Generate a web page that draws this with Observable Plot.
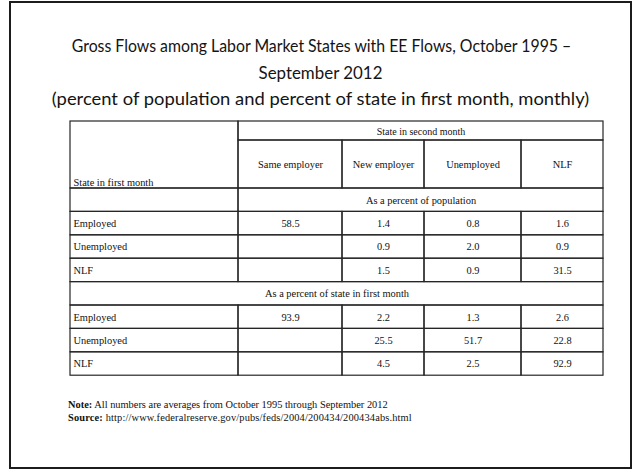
<!DOCTYPE html>
<html><head><meta charset="utf-8">
<script src="https://cdn.jsdelivr.net/npm/d3@7"></script>
<script src="https://cdn.jsdelivr.net/npm/@observablehq/plot@0.6"></script>
<style>
html,body{margin:0;padding:0;background:#fff;width:633px;height:470px;overflow:hidden}
#chart{position:absolute;left:0;top:0}
#frame{position:absolute;left:9px;top:1px;width:623px;height:468px;box-sizing:border-box;border:2px solid #1c1c1c}
#title{position:absolute;left:9px;top:33px;width:623px;font-family:Lato,"Open Sans",sans-serif;font-size:17.6px;line-height:26.5px;color:#141414}
#title div{text-align:center;white-space:nowrap;transform-origin:center}
#notes{position:absolute;left:68px;top:398px;font-family:"Liberation Serif",serif;font-size:10.4px;line-height:13px;color:#111;white-space:nowrap}
#notes .src{letter-spacing:0.15px}
</style></head>
<body>
<div id="chart"></div>
<div id="frame"></div>
<div id="title">
  <div style="transform:translateX(1px) scaleX(0.9)">Gross Flows among Labor Market States with EE Flows, October 1995 –</div>
  <div style="transform:scaleX(0.96)">September 2012</div>
  <div style="transform:scaleX(1.045)">(percent of population and percent of state in first month, monthly)</div>
</div>
<div id="notes"><b>Note:</b> All numbers are averages from October 1995 through September 2012<br><span class="src"><b>Source:</b> http://www.federalreserve.gov/pubs/feds/2004/200434/200434abs.html</span></div>
<script>
// ---- data ----
const firstMonthHeader = "State in first month";
const secondMonthHeader = "State in second month";
const columns = ["Same employer", "New employer", "Unemployed", "NLF"];
const rowStates = ["Employed", "Unemployed", "NLF"];
const sectionPopulation = "As a percent of population";
const sectionState = "As a percent of state in first month";
// as a percent of population (blank = null)
const popEmployed   = [58.5, 1.4, 0.8, 1.6];
const popUnemployed = [null, 0.9, 2.0, 0.9];
const popNLF        = [null, 1.5, 0.9, 31.5];
// as a percent of state in first month
const stEmployed    = [93.9, 2.2, 1.3, 2.6];
const stUnemployed  = [null, 25.5, 51.7, 22.8];
const stNLF         = [null, 4.5, 2.5, 92.9];

// ---- layout (table units) ----
const colWidths = [168, 104, 82, 97, 82];
const headTop = 19, headBottom = 48, rowH = 23.4;
const edges = [0]; colWidths.forEach(w => edges.push(edges[edges.length - 1] + w));
const W = edges[edges.length - 1];
const H = headTop + headBottom + 8 * rowH;

const cells = [], texts = [];
const serif = "Liberation Serif";
// header
cells.push({x1: 0, x2: edges[1], y1: 0, y2: headTop + headBottom});
texts.push({x: 3, y: headTop + headBottom - 3, text: firstMonthHeader, kind: "bottomleft"});
cells.push({x1: edges[1], x2: W, y1: 0, y2: headTop});
texts.push({x: (edges[1] + W) / 2, y: headTop / 2 + 1, text: secondMonthHeader, kind: "small"});
columns.forEach((c, i) => {
  cells.push({x1: edges[i + 1], x2: edges[i + 2], y1: headTop, y2: headTop + headBottom});
  texts.push({x: (edges[i + 1] + edges[i + 2]) / 2, y: headTop + headBottom / 2, text: c, kind: "center"});
});
let y = headTop + headBottom;
function section(label, full) {
  if (full) {
    cells.push({x1: 0, x2: W, y1: y, y2: y + rowH});
    texts.push({x: W / 2, y: y + rowH / 2, text: label, kind: "center"});
  } else {
    cells.push({x1: 0, x2: edges[1], y1: y, y2: y + rowH});
    cells.push({x1: edges[1], x2: W, y1: y, y2: y + rowH});
    texts.push({x: (edges[1] + W) / 2, y: y + rowH / 2, text: label, kind: "center"});
  }
  y += rowH;
}
function row(label, values) {
  cells.push({x1: 0, x2: edges[1], y1: y, y2: y + rowH});
  texts.push({x: 3, y: y + rowH / 2, text: label, kind: "left"});
  values.forEach((v, i) => {
    cells.push({x1: edges[i + 1], x2: edges[i + 2], y1: y, y2: y + rowH});
    if (v != null) texts.push({x: (edges[i + 1] + edges[i + 2]) / 2, y: y + rowH / 2, text: v.toFixed(1), kind: "center"});
  });
  y += rowH;
}
section(sectionPopulation, false);
row(rowStates[0], popEmployed);
row(rowStates[1], popUnemployed);
row(rowStates[2], popNLF);
section(sectionState, true);
row(rowStates[0], stEmployed);
row(rowStates[1], stUnemployed);
row(rowStates[2], stNLF);

const textOpts = {x: "x", y: "y", text: "text", fontFamily: serif, fill: "#111"};
const plot = Plot.plot({
  width: 633, height: 470, margin: 0,
  style: {background: "transparent", color: "#111"},
  x: {type: "linear", domain: [0, W], range: [70, 603], axis: null},
  y: {type: "linear", domain: [0, H], range: [121, 121 + H], axis: null},
  marks: [
    Plot.rect(cells, {x1: "x1", x2: "x2", y1: "y1", y2: "y2", fill: "none", stroke: "#262626", strokeWidth: 1.2}),
    Plot.text(texts.filter(d => d.kind === "left"), {...textOpts, textAnchor: "start", lineAnchor: "middle", fontSize: 10.4}),
    Plot.text(texts.filter(d => d.kind === "bottomleft"), {...textOpts, textAnchor: "start", lineAnchor: "bottom", fontSize: 10.4}),
    Plot.text(texts.filter(d => d.kind === "center"), {...textOpts, textAnchor: "middle", lineAnchor: "middle", fontSize: 10.4}),
    Plot.text(texts.filter(d => d.kind === "small"), {...textOpts, textAnchor: "middle", lineAnchor: "middle", fontSize: 10})
  ]
});
document.getElementById("chart").appendChild(plot);
</script>
</body></html>
